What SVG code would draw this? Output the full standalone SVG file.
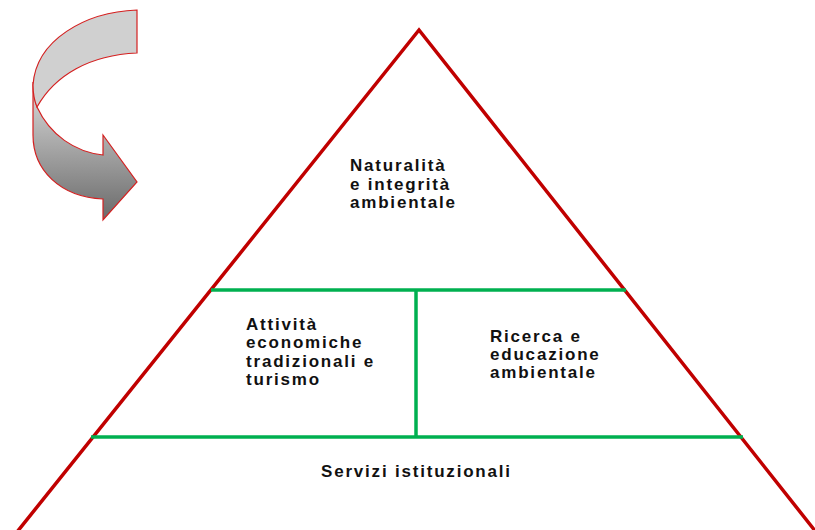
<svg xmlns="http://www.w3.org/2000/svg" width="815" height="530" viewBox="0 0 815 530">
<style>
.t{font-family:"Liberation Sans",Arial,sans-serif;font-weight:bold;font-size:17px;letter-spacing:1.8px;fill:#111}
.red{stroke:#c00000;stroke-width:3.5;fill:none}
.grn{stroke:#00b050;stroke-width:3.5;fill:none}
.arr{stroke:#d42020;stroke-width:1.2;stroke-linejoin:miter}
</style>
<defs>
<linearGradient id="g1" x1="0" y1="0" x2="0" y2="1">
<stop offset="0" stop-color="#dcdcdc"/>
<stop offset="1" stop-color="#6a6a6a"/>
</linearGradient>
</defs>
<rect width="815" height="530" fill="#fff"/>
<g id="arrow">
<path class="arr" fill="url(#g1)" d="M33,82 C33,92 35,100 37,107 C50,135 75,152 103,155 L103,135 L137,182 L103,220 L103,199 C60,197 33,170 33,135 Z"/>
<path class="arr" fill="#d0d0d0" d="M137,10 L137,53 C90,55 55,75 37,107 C34,100 33,92 33,85 C36,40 85,12 137,10 Z"/>
</g>
<g id="pyramid">
<path class="red" d="M17,532 L419,30 L816,532"/>
</g>
<g id="connectors">
<line class="grn" x1="211" y1="290" x2="626" y2="290"/>
<line class="grn" x1="91" y1="437" x2="743" y2="437"/>
<line class="grn" x1="416" y1="290" x2="416" y2="437"/>
</g>
<g id="top">
<text class="t" x="350" y="171">Naturalità</text>
<text class="t" x="350" y="190">e integrità</text>
<text class="t" x="350" y="208">ambientale</text>
</g>
<g id="left">
<text class="t" x="246" y="330">Attività</text>
<text class="t" x="246" y="348">economiche</text>
<text class="t" x="246" y="367">tradizionali e</text>
<text class="t" x="246" y="385">turismo</text>
</g>
<g id="right">
<text class="t" x="490" y="342">Ricerca e</text>
<text class="t" x="490" y="360">educazione</text>
<text class="t" x="490" y="378">ambientale</text>
</g>
<g id="bottom">
<text class="t" x="321" y="477">Servizi istituzionali</text>
</g>
</svg>
